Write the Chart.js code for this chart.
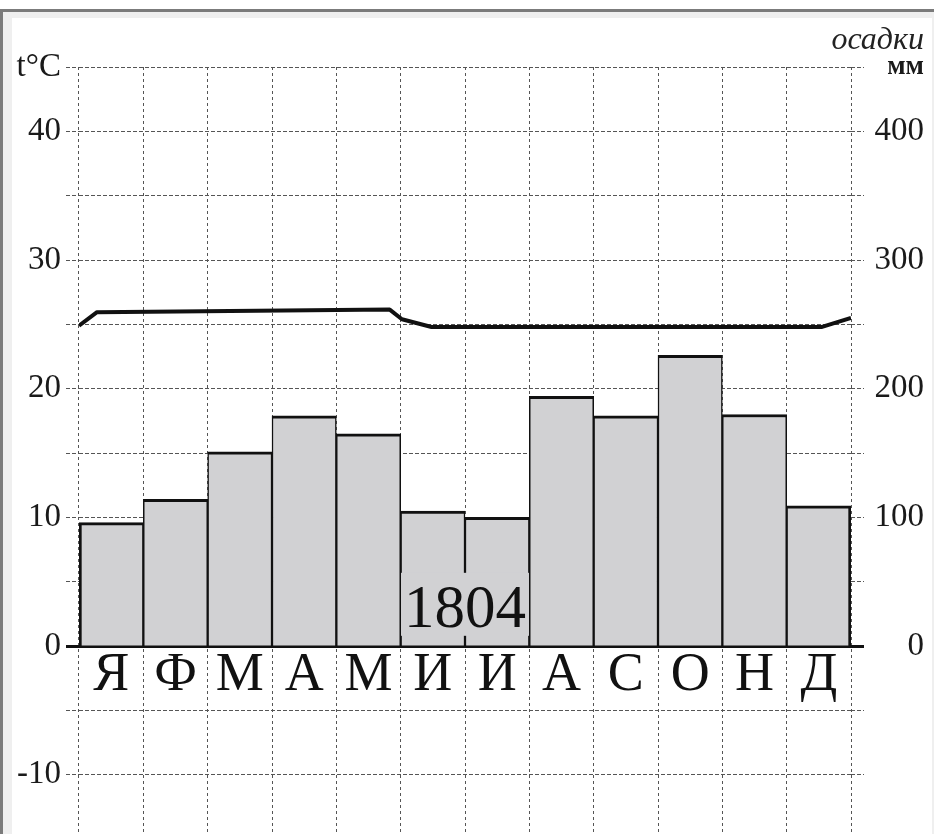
<!DOCTYPE html>
<html>
<head>
<meta charset="utf-8">
<script src="https://cdn.jsdelivr.net/npm/chart.js@4/dist/chart.umd.min.js"></script>
<style>
  html, body { margin: 0; padding: 0; background: #fff; overflow: hidden; }
  #frame { position: absolute; left: 0; top: 9px; width: 934px; height: 825px; box-sizing: border-box;
           border-top: 3px solid #7b7b7b; border-left: 3px solid #7b7b7b; background: #efefef; }
  #paper { position: absolute; left: 12px; top: 18px; width: 920px; height: 816px; background: #fff; }
  #box { position: absolute; left: 0; top: 0; width: 934px; height: 834px; }
</style>
</head>
<body>
<div id="frame"></div>
<div id="paper"></div>
<div id="box"><canvas id="climate-chart"></canvas></div>
<script>
// months (Russian initials)
var months = ["Я", "Ф", "М", "А", "М", "И", "И", "А", "С", "О", "Н", "Д"];
// precipitation, mm
var precip = [96, 114, 151, 179, 165, 105, 100, 194, 179, 226, 180, 109];
// temperature curve (position in months from start of year, °C)
var tempMonths = [0, 0.28, 4.83, 5.02, 5.48, 11.55, 12];
var tempValues = [24.9, 25.95, 26.15, 25.4, 24.8, 24.8, 25.5];
// axis labels
var tempUnit = "t°C";
var precipUnit = "мм";
var precipTitle = "осадки";
var stamp = "1804";

var serif = "'Liberation Serif', 'Times New Roman', serif";
var gridGrey = "#555";

function tickCol(ctx) { return ctx.tick && ctx.tick.value === 0 ? "#111" : gridGrey; }
function tickW(ctx) { return ctx.tick && ctx.tick.value === 0 ? 3 : 1; }
function tickDash(ctx) { return ctx.tick && ctx.tick.value === 0 ? [] : [4, 2]; }

// "1804" stamp with grey box, placed by the scales
var stampPlugin = {
	id: "stamp",
	afterDraw: function (chart) {
		var ctx = chart.ctx;
		var x = chart.scales.xt.getPixelForValue(6);
		var y = chart.scales.y.getPixelForValue(1.5);
		ctx.save();
		ctx.font = "61px " + serif;
		var w = ctx.measureText(stamp).width + 6;
		ctx.fillStyle = "#d1d1d3";
		ctx.fillRect(x - w / 2, y - 54, w, 63);
		ctx.fillStyle = "#111";
		ctx.textAlign = "center";
		ctx.textBaseline = "alphabetic";
		ctx.fillText(stamp, x, y);
		ctx.restore();
	}
};

new Chart(document.getElementById("climate-chart"), {
	type: 'bar',
	data: {
		labels: months,
		datasets: [{
			type: 'line',
			data: tempMonths.map(function (m, i) { return { x: m, y: tempValues[i] }; }),
			xAxisID: 'xt',
			yAxisID: 'y',
			borderColor: "#111",
			borderWidth: 4,
			borderJoinStyle: 'round',
			pointRadius: 0,
			tension: 0,
			order: 0
		}, {
			data: precip,
			xAxisID: 'x',
			yAxisID: 'y2',
			grouped: false,
			backgroundColor: "#d1d1d3",
			borderColor: "#111",
			borderWidth: function (ctx) {
				var last = ctx.dataIndex === precip.length - 1;
				return { top: 3, left: ctx.dataIndex === 0 ? 3 : 1.5, right: last ? 3 : 1.5, bottom: 0 };
			},
			categoryPercentage: 1,
			barPercentage: 1,
			order: 1
		}]
	},
	options: {
		responsive: true,
		maintainAspectRatio: false,
		animation: false,
		layout: { padding: { left: 0, right: 10, top: 0, bottom: 0 } },
		plugins: {
			legend: { display: false },
			tooltip: { enabled: false },
			title: {
				display: true,
				text: precipTitle,
				align: 'end',
				color: "#222",
				font: { family: serif, size: 32, style: 'italic', weight: 'normal', lineHeight: 1.2 },
				padding: { top: 21, bottom: 7.6 }
			}
		},
		scales: {
			x: {
				position: { y: 0 },
				z: 1,
				offset: true,
				grid: { color: gridGrey, lineWidth: 1, drawTicks: false, offset: true },
				border: { display: true, color: "#111", width: 3, dash: [3, 3] },
				ticks: {
					color: "#111",
					padding: 3,
					font: { family: serif, size: 54, lineHeight: 1 },
					maxRotation: 0,
					autoSkip: false
				}
			},
			xt: {
				type: 'linear',
				display: false,
				offset: false,
				grid: { offset: false },
				min: 0,
				max: 12
			},
			y: {
				position: 'left',
				min: -14.6,
				max: 45,
				afterFit: function (s) { s.width = 79; s.paddingBottom = 0; },
				grid: {
					color: gridGrey, lineWidth: 1, tickLength: 13,
					tickColor: tickCol, tickWidth: tickW, tickBorderDash: tickDash
				},
				border: { display: false, dash: [4, 2] },
				ticks: {
					stepSize: 5,
					includeBounds: false,
					padding: 5,
					color: "#1a1a1a",
					font: { family: serif, size: 33 },
					callback: function (v) {
						if (v === 45) return tempUnit;
						return v % 10 === 0 ? String(v) : '';
					}
				}
			},
			y2: {
				position: 'right',
				min: -146,
				max: 450,
				afterFit: function (s) { s.width = 73; s.paddingBottom = 0; },
				grid: {
					drawOnChartArea: false, tickLength: 13,
					tickColor: tickCol, tickWidth: tickW, tickBorderDash: tickDash
				},
				border: { display: false },
				ticks: {
					stepSize: 50,
					includeBounds: false,
					crossAlign: 'far',
					color: "#1a1a1a",
					font: function (ctx) {
						if (ctx.tick && ctx.tick.value === 450) return { family: serif, size: 27, weight: 'bold' };
						return { family: serif, size: 33 };
					},
					callback: function (v) {
						if (v === 450) return precipUnit;
						return v >= 0 && v % 100 === 0 ? String(v) : '';
					}
				}
			}
		}
	},
	plugins: [stampPlugin]
});
</script>
</body>
</html>
